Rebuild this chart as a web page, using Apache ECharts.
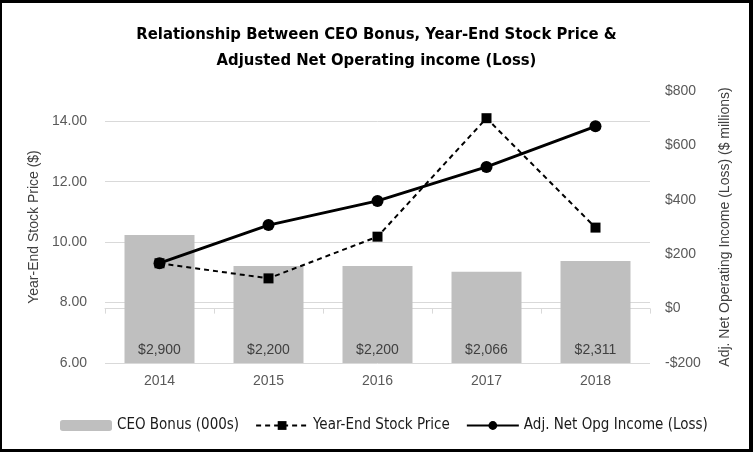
<!DOCTYPE html>
<html>
<head>
<meta charset="utf-8">
<script src="https://cdn.jsdelivr.net/npm/echarts@6/dist/echarts.min.js"></script>
<style>
html,body{margin:0;padding:0;background:#fff;}
#chart{width:753px;height:452px;}
</style>
</head>
<body>
<div id="chart"></div>
<script>
var years = ['2014', '2015', '2016', '2017', '2018'];
var ceoBonus = [2900, 2200, 2200, 2066, 2311];
var stockPrice = [9.30, 8.80, 10.18, 14.10, 10.48];
var netOpIncome = [167, 307, 396, 521, 670];
var leftTicks = { min: 6, max: 15, interval: 2 };
var rightTicks = { min: -200, max: 800, interval: 200 };

var chart = echarts.init(document.getElementById('chart'), null, { renderer: 'canvas' });
var narrow = '"DejaVu Sans Condensed", "Liberation Sans Narrow", sans-serif';
var sans = '"Liberation Sans", Arial, sans-serif';

var option = {
  backgroundColor: '#ffffff',
  animation: false,
  title: {
    text: 'Relationship Between CEO Bonus, Year-End Stock Price &\nAdjusted Net Operating income (Loss)',
    left: 'center',
    top: 17,
    textStyle: { fontFamily: narrow, fontWeight: 'bold', fontSize: 16.5, lineHeight: 26, color: '#000' }
  },
  legend: {
    left: 55,
    top: 413,
    width: 690,
    itemWidth: 52,
    itemHeight: 11,
    itemGap: 16,
    textStyle: { fontFamily: narrow, fontSize: 15, color: '#1a1a1a' },
    data: ['CEO Bonus (000s)', 'Year-End Stock Price', 'Adj. Net Opg Income (Loss)']
  },
  grid: { left: 105, right: 103, top: 91, bottom: 89, containLabel: false },
  xAxis: {
    type: 'category',
    data: years,
    boundaryGap: true,
    axisLine: { lineStyle: { color: '#d9d9d9', width: 1 } },
    axisTick: { show: true, length: 5, lineStyle: { color: '#d9d9d9' } },
    axisLabel: { fontFamily: sans, fontSize: 14, color: '#595959', margin: 11 }
  },
  yAxis: [
    {
      type: 'value',
      min: leftTicks.min, max: leftTicks.max, interval: leftTicks.interval,
      position: 'left',
      name: 'Year-End Stock Price ($)',
      nameLocation: 'middle',
      nameGap: 52,
      nameTextStyle: { fontFamily: sans, fontSize: 14, color: '#404040' },
      axisLine: { show: false },
      axisTick: { show: false },
      axisLabel: {
        fontFamily: sans, fontSize: 14, color: '#595959', margin: 18,
        showMaxLabel: false,
        formatter: function (v) { return v.toFixed(2); }
      },
      splitLine: { show: true, showMaxLine: false, lineStyle: { color: '#d9d9d9', width: 1 } }
    },
    {
      type: 'value',
      min: rightTicks.min, max: rightTicks.max, interval: rightTicks.interval,
      position: 'right',
      name: 'Adj. Net Operating Income (Loss) ($ millions)',
      nameLocation: 'middle',
      nameGap: 68,
      nameRotate: 90,
      nameTextStyle: { fontFamily: sans, fontSize: 14, color: '#404040' },
      axisLine: { show: false },
      axisTick: { show: false },
      axisLabel: {
        fontFamily: sans, fontSize: 14, color: '#595959', margin: 15,
        formatter: function (v) { return v < 0 ? '-$' + Math.abs(v) : '$' + v; }
      },
      splitLine: { show: false }
    },
    {
      type: 'value',
      min: 0, max: 6166,
      show: false,
      splitLine: { show: false }
    }
  ],
  series: [
    {
      name: 'CEO Bonus (000s)',
      type: 'bar',
      yAxisIndex: 2,
      data: ceoBonus,
      barWidth: 70,
      itemStyle: { color: '#bfbfbf' },
      z: 1,
      label: {
        show: true,
        position: 'insideBottom',
        distance: 6,
        fontFamily: sans, fontSize: 14, color: '#404040',
        formatter: function (p) { return '$' + p.value.toLocaleString('en-US'); }
      }
    },
    {
      name: 'Year-End Stock Price',
      type: 'line',
      yAxisIndex: 0,
      data: stockPrice,
      symbol: 'rect',
      symbolSize: 10,
      itemStyle: { color: '#000' },
      lineStyle: { color: '#000', width: 2, type: [5, 4] },
      z: 4
    },
    {
      name: 'Adj. Net Opg Income (Loss)',
      type: 'line',
      yAxisIndex: 1,
      data: netOpIncome,
      symbol: 'circle',
      symbolSize: 12,
      itemStyle: { color: '#000' },
      lineStyle: { color: '#000', width: 3 },
      z: 3
    }
  ],
  graphic: [
    { type: 'rect', shape: { x: 0, y: 0, width: 753, height: 3 }, style: { fill: '#000' }, silent: true },
    { type: 'rect', shape: { x: 0, y: 449, width: 753, height: 3 }, style: { fill: '#000' }, silent: true },
    { type: 'rect', shape: { x: 0, y: 0, width: 2, height: 452 }, style: { fill: '#000' }, silent: true },
    { type: 'rect', shape: { x: 749, y: 0, width: 4, height: 452 }, style: { fill: '#000' }, silent: true }
  ]
};
chart.setOption(option);
</script>
</body>
</html>
